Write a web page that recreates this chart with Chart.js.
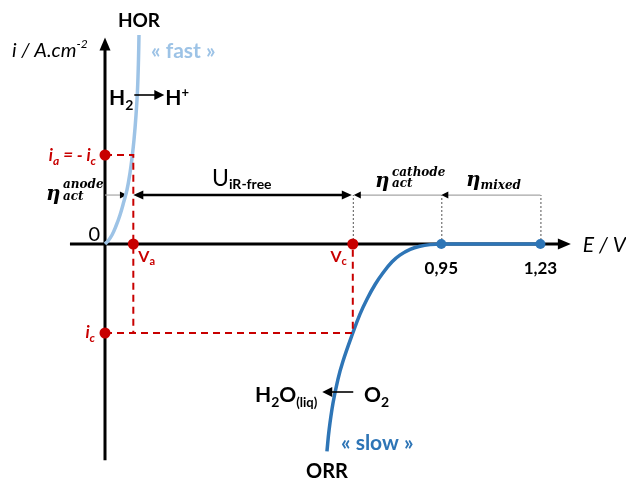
<!DOCTYPE html>
<html>
<head>
<meta charset="utf-8">
<script src="https://cdn.jsdelivr.net/npm/chart.js@4/dist/chart.umd.min.js"></script>
<style>
html,body{margin:0;padding:0;background:#fff;overflow:hidden;}
#wrap{width:626px;height:482px;position:relative;}
</style>
</head>
<body>
<div id="wrap"><canvas id="c"></canvas></div>
<script>
// ---- data (schematic, E in V, i in arbitrary units) ----
const horE = [0, 0.0085, 0.0198, 0.0311, 0.0424, 0.0537, 0.0621, 0.0706, 0.0763, 0.0819, 0.0876, 0.0918, 0.0946, 0.0960];
const horI = [0, 0.034, 0.101, 0.202, 0.326, 0.483, 0.607, 0.798, 0.966, 1.169, 1.449, 1.730, 2.067, 2.348];
const orrE = [0.627, 0.633, 0.644, 0.658, 0.672, 0.70, 0.720, 0.740, 0.763, 0.785, 0.811, 0.833, 0.862, 0.890, 0.918, 0.95, 1.23];
const orrI = [-2.33, -2.09, -1.79, -1.52, -1.32, -1.0, -0.79, -0.62, -0.455, -0.325, -0.2, -0.125, -0.06, -0.025, -0.007, 0, 0];
const Va = 0.08, Vc = 0.70;       // operating potentials
const iA = 1.0, iC = -1.0;        // anodic / cathodic current
const E_ORR_ONSET = 0.95, E_REV = 1.23;
const tickLabels = ['0,95', '1,23'];
const etaLevel = 0.55;            // current level of the overpotential arrows
const anodeE = 0.062;             // HOR curve potential at etaLevel
const axisE = [-0.099, 1.316];    // x-axis extent
const axisI = [-2.43, 2.32];      // y-axis extent

// ---- layout (pixels) ----
const ORG_X = 105, ORG_Y = 244, PX_PER_V = 354, PX_PER_I = 89, W = 626, H = 482;
const RED = '#C80000', LBLUE = '#9DC3E6', DBLUE = '#2E75B6', GRAY = '#A6A6A6';
const SANS = "Lato, 'Open Sans', sans-serif";
const SERIF = "'DejaVu Serif', serif";

const xy = (xs, ys) => xs.map((x, k) => ({x, y: ys[k]}));

function arrowHead(ctx, x, y, dir, len, half, color) {
  ctx.save(); ctx.fillStyle = color; ctx.beginPath();
  if (dir === 'r') { ctx.moveTo(x, y); ctx.lineTo(x - len, y - half); ctx.lineTo(x - len, y + half); }
  else if (dir === 'l') { ctx.moveTo(x, y); ctx.lineTo(x + len, y - half); ctx.lineTo(x + len, y + half); }
  else { ctx.moveTo(x, y); ctx.lineTo(x - half, y + len); ctx.lineTo(x + half, y + len); }
  ctx.closePath(); ctx.fill(); ctx.restore();
}
function line(ctx, x1, y1, x2, y2, w, color, dash) {
  ctx.save(); ctx.strokeStyle = color; ctx.lineWidth = w; ctx.setLineDash(dash || []);
  ctx.beginPath(); ctx.moveTo(x1, y1); ctx.lineTo(x2, y2); ctx.stroke(); ctx.restore();
}
function rich(ctx, x, y, parts, align) {
  ctx.save(); ctx.textBaseline = 'alphabetic'; ctx.textAlign = 'left';
  let total = 0;
  parts.forEach(p => { ctx.font = p.f; total += ctx.measureText(p.t).width + (p.sp || 0); });
  if (align === 'center') x -= total / 2; else if (align === 'right') x -= total;
  parts.forEach(p => {
    ctx.font = p.f; ctx.fillStyle = p.c || '#000';
    ctx.fillText(p.t, x + (p.dx || 0), y + (p.dy || 0));
    x += ctx.measureText(p.t).width + (p.sp || 0);
  });
  ctx.restore();
  return x;
}

const decor = {
  id: 'decor',
  beforeDatasetsDraw(chart) {
    const ctx = chart.ctx, X = v => chart.scales.x.getPixelForValue(v), Y = v => chart.scales.y.getPixelForValue(v);
    // axes
    line(ctx, X(axisE[0]), Y(0), X(axisE[1]) - 10, Y(0), 3, '#000');
    arrowHead(ctx, X(axisE[1]), Y(0), 'r', 13, 5.5, '#000');
    line(ctx, X(0), Y(axisI[0]), X(0), Y(axisI[1]) + 10, 3, '#000');
    arrowHead(ctx, X(0), Y(axisI[1]), 'u', 13, 5.5, '#000');
    // dotted verticals
    [Vc, E_ORR_ONSET, E_REV].forEach(e => line(ctx, X(e) + 0.5, Y(0), X(e) + 0.5, Y(etaLevel), 1, '#555', [2, 2]));
    // overpotential lines
    const yE = Y(etaLevel);
    line(ctx, X(0), yE, X(anodeE) - 6, yE, 1.2, GRAY);
    arrowHead(ctx, X(anodeE), yE, 'r', 7, 3.5, '#000');
    line(ctx, X(Va) + 8, yE, X(Vc) - 8, yE, 2.6, '#000');
    arrowHead(ctx, X(Va), yE, 'l', 10, 4.5, '#000');
    arrowHead(ctx, X(Vc) - 1, yE, 'r', 10, 4.5, '#000');
    line(ctx, X(Vc) + 6, yE, X(E_ORR_ONSET), yE, 1.2, GRAY);
    arrowHead(ctx, X(Vc) + 1, yE, 'l', 7, 3.5, '#000');
    line(ctx, X(E_ORR_ONSET) + 6, yE, X(E_REV), yE, 1.2, GRAY);
    arrowHead(ctx, X(E_ORR_ONSET), yE, 'l', 7, 3.5, '#000');
  },
  afterDatasetsDraw(chart) {
    const ctx = chart.ctx, X = v => chart.scales.x.getPixelForValue(v), Y = v => chart.scales.y.getPixelForValue(v);
    const b = s => `bold ${s}px ${SANS}`, bi = s => `italic bold ${s}px ${SANS}`, it = s => `italic ${s}px ${SANS}`;
    const m = s => `italic bold ${s}px ${SERIF}`;
    // top labels
    rich(ctx, X(horE[horE.length - 1]), 27, [{t: 'HOR', f: b(19)}], 'center');
    rich(ctx, 151, 58, [{t: '« fast »', f: b(21), c: LBLUE}]);
    rich(ctx, 12, 57, [{t: 'i / A.cm', f: it(20)}, {t: '-2', f: it(12), dy: -9}]);
    // H2 -> H+
    let x = rich(ctx, 109, 105, [{t: 'H', f: b(21)}, {t: '2', f: b(14), dy: 5}]);
    line(ctx, x + 1, 95, x + 24, 95, 1.6, '#000');
    arrowHead(ctx, x + 31, 95, 'r', 10, 5, '#000');
    rich(ctx, x + 32, 105, [{t: 'H', f: b(21)}, {t: '+', f: b(13), dy: -8}]);
    // current labels
    rich(ctx, X(0) - 9, Y(iA) + 6, [{t: 'i', f: bi(17), c: RED}, {t: 'a', f: bi(12), c: RED, dy: 4, sp: 4}, {t: '= - ', f: bi(17), c: RED}, {t: 'i', f: bi(17), c: RED}, {t: 'c', f: bi(12), c: RED, dy: 4}], 'right');
    rich(ctx, X(0) - 10, Y(iC) + 5, [{t: 'i', f: bi(17), c: RED}, {t: 'c', f: bi(12), c: RED, dy: 4}], 'right');
    // eta anode
    rich(ctx, 46, 200, [{t: 'η', f: m(20)}]);
    rich(ctx, 63, 188, [{t: 'anode', f: m(12)}]);
    rich(ctx, 63, 200, [{t: 'act', f: m(12)}]);
    // origin 0
    rich(ctx, X(0) - 5, Y(0) - 3, [{t: '0', f: `20px ${SANS}`}], 'right');
    // U iR-free
    rich(ctx, 212, 186, [{t: 'U', f: `23px ${SANS}`}, {t: 'iR-free', f: b(14), dy: 3}]);
    // eta cathode
    rich(ctx, 375, 187, [{t: 'η', f: m(20)}]);
    rich(ctx, 392, 176, [{t: 'cathode', f: m(12)}]);
    rich(ctx, 392, 187, [{t: 'act', f: m(12)}]);
    // eta mixed
    rich(ctx, 466, 186, [{t: 'η', f: m(20)}, {t: 'mixed', f: m(12), dy: 3}]);
    // E / V
    rich(ctx, X(axisE[1]) + 12, Y(0) + 8, [{t: 'E / V', f: it(21)}]);
    // Va, Vc
    rich(ctx, X(Va) + 5, Y(0) + 18, [{t: 'V', f: b(16), c: RED}, {t: 'a', f: b(11), c: RED, dy: 3}]);
    rich(ctx, X(Vc) - 6, Y(0) + 18, [{t: 'V', f: b(16), c: RED}, {t: 'c', f: b(11), c: RED, dy: 3}], 'right');
    // tick labels
    rich(ctx, X(E_ORR_ONSET), Y(0) + 30, [{t: tickLabels[0], f: b(17)}], 'center');
    rich(ctx, X(E_REV), Y(0) + 30, [{t: tickLabels[1], f: b(17)}], 'center');
    // H2O <- O2
    x = rich(ctx, 255, 402, [{t: 'H', f: b(21)}, {t: '2', f: b(14), dy: 5}, {t: 'O', f: b(21)}, {t: '(liq)', f: b(13), dy: 5}]);
    arrowHead(ctx, x + 5, 392, 'l', 10, 5, '#000');
    line(ctx, x + 12, 392, x + 36, 392, 1.6, '#000');
    rich(ctx, 364, 402, [{t: 'O', f: b(21)}, {t: '2', f: b(14), dy: 5}]);
    // slow / ORR
    rich(ctx, 341, 450, [{t: '« slow »', f: b(21), c: DBLUE}]);
    rich(ctx, X(orrE[0]), 478, [{t: 'ORR', f: b(20)}], 'center');
  }
};

new Chart(document.getElementById('c'), {
  type: 'scatter',
  data: {
    datasets: [
      {label: 'dash1', data: [{x: 0, y: iA}, {x: Va, y: iA}, {x: Va, y: iC}], showLine: true, borderColor: RED, borderWidth: 2, borderDash: [7, 5], pointRadius: 0, tension: 0},
      {label: 'dash2', data: [{x: 0, y: iC}, {x: Vc, y: iC}, {x: Vc, y: 0}], showLine: true, borderColor: RED, borderWidth: 2, borderDash: [7, 5], pointRadius: 0, tension: 0},
      {label: 'HOR', data: xy(horE, horI), showLine: true, borderColor: LBLUE, borderWidth: 3.5, pointRadius: 0, tension: 0.4},
      {label: 'ORR', data: xy(orrE, orrI), showLine: true, borderColor: DBLUE, borderWidth: 3.5, pointRadius: 0, tension: 0.4},
      {label: 'redPts', data: [{x: 0, y: iA}, {x: Va, y: 0}, {x: Vc, y: 0}, {x: 0, y: iC}], showLine: false, pointRadius: 5.5, backgroundColor: RED, borderColor: RED, borderWidth: 0},
      {label: 'bluePts', data: [{x: E_ORR_ONSET, y: 0}, {x: E_REV, y: 0}], showLine: false, pointRadius: 5, backgroundColor: DBLUE, borderColor: DBLUE, borderWidth: 0}
    ]
  },
  options: {
    responsive: true, maintainAspectRatio: false, animation: false,
    layout: {padding: 0, autoPadding: false},
    clip: false,
    plugins: {legend: {display: false}, tooltip: {enabled: false}},
    events: [],
    scales: {
      x: {type: 'linear', display: false, min: -ORG_X / PX_PER_V, max: (W - ORG_X) / PX_PER_V},
      y: {type: 'linear', display: false, min: -(H - ORG_Y) / PX_PER_I, max: ORG_Y / PX_PER_I}
    }
  },
  plugins: [decor]
});
</script>
</body>
</html>
